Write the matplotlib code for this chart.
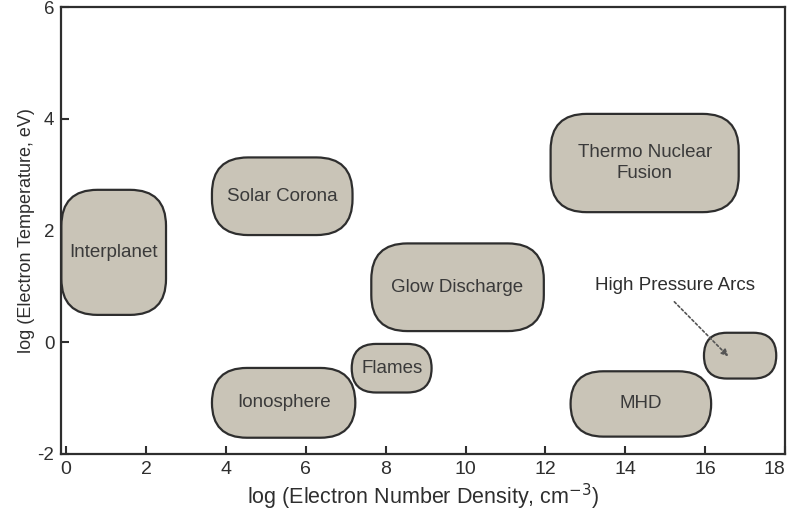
import matplotlib
matplotlib.use("Agg")
import matplotlib.pyplot as plt
from matplotlib.patches import FancyBboxPatch

plt.rcParams['font.family'] = ['Liberation Sans', 'DejaVu Sans']
plt.rcParams['axes.unicode_minus'] = False

# plasma regions: (label, x0, x1, y0, y1) in log units
names = ['Interplanet', 'Solar Corona', 'Ionosphere', 'Flames', 'Glow Discharge',
         'Thermo Nuclear\nFusion', 'MHD', '']
x0 = [-0.12, 3.65, 3.65, 7.15, 7.64, 12.13, 12.63, 15.97]
x1 = [2.50, 7.17, 7.24, 9.15, 11.96, 16.84, 16.15, 17.78]
y0 = [0.49, 1.92, -1.71, -0.90, 0.20, 2.33, -1.69, -0.65]
y1 = [2.73, 3.31, -0.46, -0.03, 1.77, 4.09, -0.52, 0.17]

arc_label = 'High Pressure Arcs'
arc_text = (15.25, 1.02)
arc_tip = (16.63, -0.29)
arc_tail = (15.18, 0.76)

xticks = [0, 2, 4, 6, 8, 10, 12, 14, 16, 18]
yticks = [-2, 0, 2, 4, 6]

fig = plt.figure(figsize=(7.87, 5.17), dpi=100)
ax = fig.add_axes([0.078, 0.122, 0.9195, 0.864])
ax.set_xlim(-0.12, 18.0)
ax.set_ylim(-2.0, 6.0)

# pixel scale to keep the corners round
px_x = 0.9195 * 787 / (18.0 + 0.12)
px_y = 0.864 * 517 / 8.0
aspect = px_x / px_y

for name, a, b, c, d in zip(names, x0, x1, y0, y1):
    w_px = (b - a) * px_x
    h_px = (d - c) * px_y
    r_px = min(36, 0.5 * min(w_px, h_px))
    r = r_px / px_x
    box = FancyBboxPatch((a, c), b - a, d - c,
                         boxstyle="round,pad=0,rounding_size=%f" % r,
                         mutation_aspect=aspect,
                         facecolor='#c9c4b7', edgecolor='#2e2e2e',
                         linewidth=1.6, zorder=3)
    ax.add_patch(box)
    if name:
        ax.text((a + b) / 2, (c + d) / 2, name, ha='center', va='center',
                fontsize=13.5, color='#3a3a3a', zorder=4, linespacing=1.3)

ax.text(arc_text[0], arc_text[1], arc_label, ha='center', va='center',
        fontsize=13.5, color='#2e2e2e')
ax.annotate('', xy=arc_tip, xytext=arc_tail,
            arrowprops=dict(arrowstyle='-|>', linestyle=(0, (1.5, 1.5)),
                            color='#555555', lw=1.2, mutation_scale=10),
            zorder=5)

ax.set_xticks(xticks)
ax.set_yticks(yticks)
ax.tick_params(direction='in', length=6, width=1.5, labelsize=14,
               colors='#2e2e2e', pad=5)
ax.tick_params(axis='y', labelsize=13.5)
# last x label sits against the figure edge
ax.get_xticklabels()[-1].set_horizontalalignment('right')
for s in ax.spines.values():
    s.set_linewidth(1.6)
    s.set_color('#2e2e2e')

ax.set_xlabel('log (Electron Number Density, cm$^{-3}$)', fontsize=15.5,
              color='#2e2e2e', labelpad=3)
ax.set_ylabel('log (Electron Temperature, eV)', fontsize=13,
              color='#2e2e2e', labelpad=2)

fig.savefig('out.png', dpi=100)
